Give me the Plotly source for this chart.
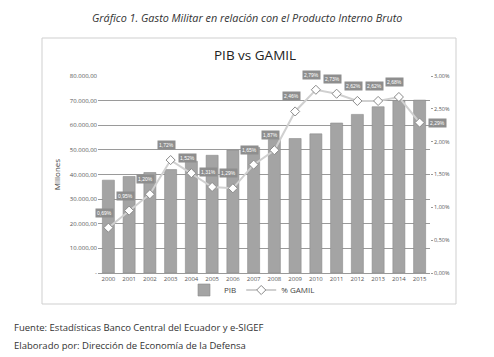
import plotly.graph_objects as go

years = list(range(2000, 2016))
pib = [37700, 39200, 40800, 42000, 45400, 47800, 49900, 51000,
       54200, 54600, 56500, 60900, 64400, 67500, 70100, 70200]
gamil = [0.0069, 0.0095, 0.0120, 0.0172, 0.0152, 0.0131, 0.0129, 0.0165,
         0.0187, 0.0246, 0.0279, 0.0273, 0.0262, 0.0262, 0.0268, 0.0229]
left_ticks = [0, 10000, 20000, 30000, 40000, 50000, 60000, 70000, 80000]
left_text = ["-", "10.000,00", "20.000,00", "30.000,00", "40.000,00",
             "50.000,00", "60.000,00", "70.000,00", "80.000,00"]
right_ticks = [0, 0.005, 0.01, 0.015, 0.02, 0.025, 0.03]
right_text = ["0,00%", "0,50%", "1,00%", "1,50%", "2,00%", "2,50%", "3,00%"]

# page body has an 8px margin: work in window pixels, shifted by OFF
OFF = 8
W, H = 494 - OFF, 357 - OFF
L, R, T, B = 98 - OFF, 64, 76 - OFF, 92 - OFF
pw, ph = W - L - R, H - T - B

def px(x):
    return (x - OFF - L) / pw

def py(y):
    return (H - B - (y - OFF)) / ph

fig = go.Figure()
fig.add_trace(go.Bar(x=years, y=pib, name="PIB", width=0.58,
                     marker=dict(color="#a4a4a4", line=dict(color="#8c8c8c", width=0.6))))
fig.add_trace(go.Scatter(x=years, y=gamil, name="% GAMIL", yaxis="y2",
                         mode="lines+markers",
                         line=dict(color="#d0d0d0", width=2),
                         marker=dict(symbol="diamond", size=7, color="white",
                                     line=dict(color="#8a8a8a", width=1))))

ann = []
for i, (yr, v) in enumerate(zip(years, gamil)):
    txt = ("%.2f%%" % (v * 100)).replace(".", ",")
    if i == len(years) - 1:
        xs, ys = 18, 0
    else:
        xs, ys = -4, 15
    ann.append(dict(x=yr, y=v, xref="x", yref="y2", text=txt, showarrow=False,
                    xshift=xs, yshift=ys, bgcolor="#8e8e8e",
                    font=dict(size=5, color="white", family="Liberation Sans"),
                    borderpad=1))

ann.append(dict(x=px(247), y=py(17), xref="paper", yref="paper",
                text="<i>Gráfico 1. Gasto Militar en relación con el Producto Interno Bruto</i>",
                showarrow=False, xanchor="center", yanchor="middle",
                font=dict(size=10.8, color="#333333", family="Open Sans")))
ann.append(dict(x=px(255), y=py(55), xref="paper", yref="paper",
                text="PIB vs GAMIL", showarrow=False, xanchor="center", yanchor="middle",
                font=dict(size=13.5, color="#222222", family="Open Sans")))
ann.append(dict(x=px(12), y=py(327), xref="paper", yref="paper",
                text="Fuente: Estadísticas Banco Central del Ecuador y e-SIGEF",
                showarrow=False, xanchor="left", yanchor="middle",
                font=dict(size=9.5, color="#333333", family="Open Sans")))
ann.append(dict(x=px(12), y=py(345), xref="paper", yref="paper",
                text="Elaborado por: Dirección de Economía de la Defensa",
                showarrow=False, xanchor="left", yanchor="middle",
                font=dict(size=9.5, color="#333333", family="Open Sans")))

shapes = [dict(type="rect", xref="paper", yref="paper",
               x0=px(42), x1=px(456), y0=py(304), y1=py(38),
               line=dict(color="#cfcfcf", width=1), fillcolor="rgba(0,0,0,0)",
               layer="below")]

fig.update_layout(
    width=W, height=H,
    margin=dict(l=L, r=R, t=T, b=B),
    paper_bgcolor="white", plot_bgcolor="white",
    font=dict(family="Open Sans", color="#444444"),
    showlegend=True,
    legend=dict(orientation="h", x=px(252), xanchor="center", y=py(290), yanchor="middle",
                font=dict(size=8, color="#444444"), bgcolor="rgba(0,0,0,0)"),
    xaxis=dict(type="linear", range=[1999.5, 2015.5], tickmode="array",
               tickvals=years, ticktext=[str(y) for y in years],
               tickfont=dict(size=6, color="#555555"),
               showgrid=False, showline=True, linecolor="#999999", ticks="",
               zeroline=False),
    yaxis=dict(range=[0, 80000], tickvals=left_ticks, ticktext=left_text,
               tickfont=dict(size=6, color="#555555"), showgrid=True,
               gridcolor="#9a9a9a", gridwidth=1, zeroline=False,
               title=dict(text="Millones", font=dict(size=8, color="#444444"), standoff=8)),
    yaxis2=dict(range=[0, 0.03], overlaying="y", side="right",
                tickvals=right_ticks, ticktext=right_text,
                tickfont=dict(size=5.5, color="#555555"), showgrid=False,
                zeroline=False, showline=False, ticks="outside", ticklen=2,
                tickcolor="#999999"),
    annotations=ann,
    shapes=shapes,
)

fig.write_html("out.html")
